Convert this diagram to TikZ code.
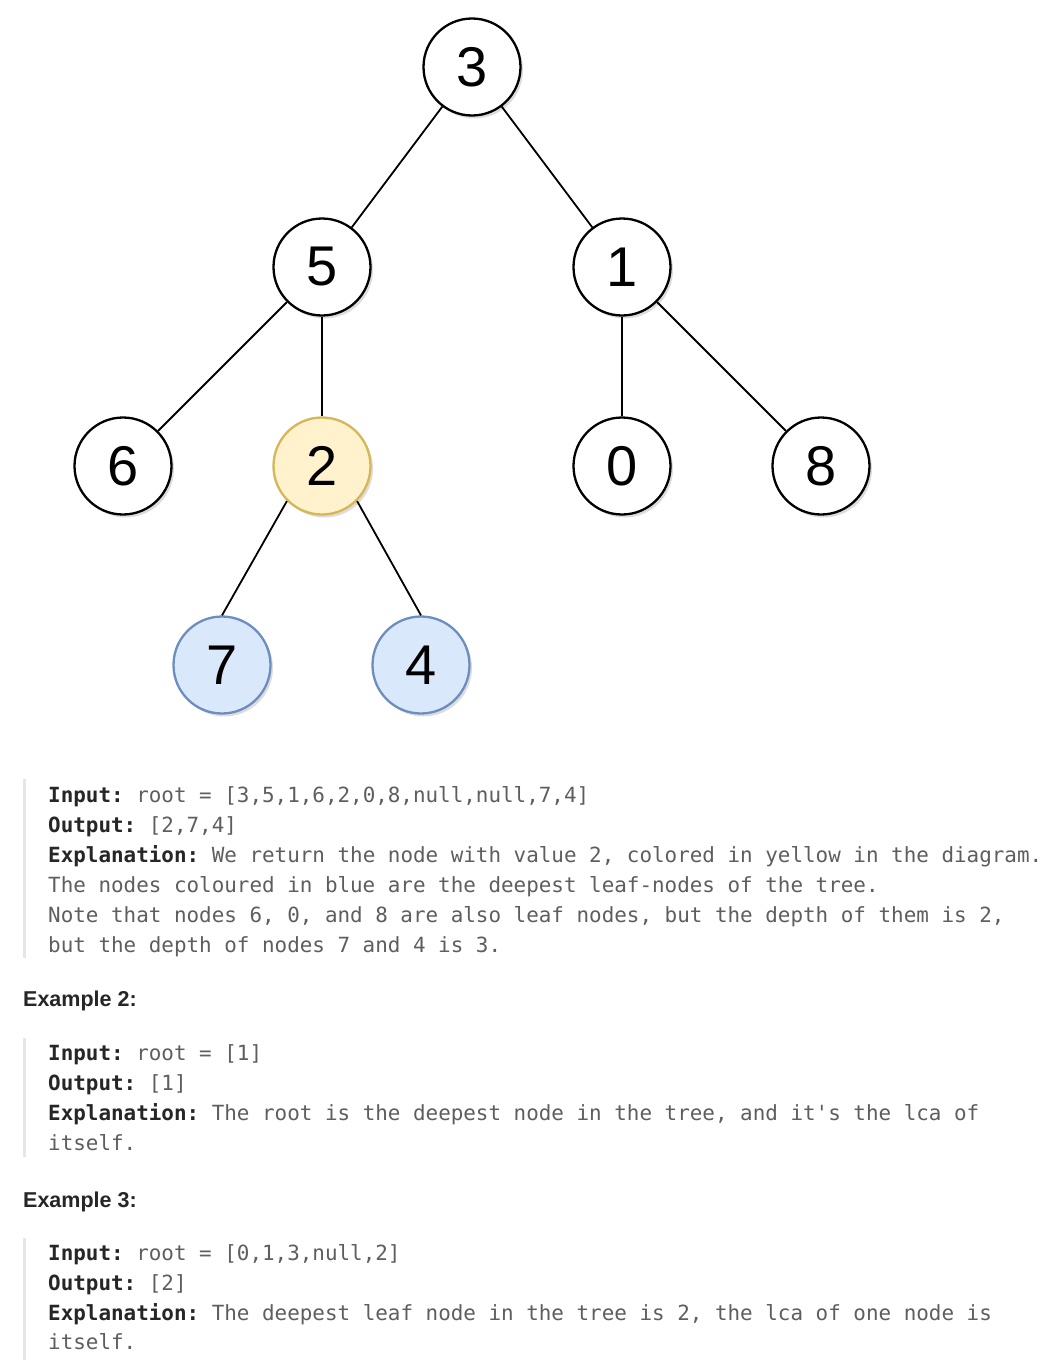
\documentclass[tikz,border=0pt]{standalone}
\usepackage{fontspec}
\setmainfont{Liberation Sans}
\setmonofont{DejaVu Sans Mono}
\usetikzlibrary{shadows}
\definecolor{lbl}{HTML}{262626}
\definecolor{txt}{HTML}{5E5E5E}
\definecolor{yfill}{HTML}{FFF2CC}
\definecolor{ydraw}{HTML}{D6B656}
\definecolor{bfill}{HTML}{DAE8FC}
\definecolor{bdraw}{HTML}{6C8EBF}
\definecolor{barc}{HTML}{E6E6E6}
\newcommand{\lb}[1]{{\bfseries\color{lbl}#1}}
\begin{document}
\begin{tikzpicture}[x=1pt,y=-1pt,
 tn/.style={circle,draw=black,fill=white,line width=2.3pt,minimum size=97pt,inner sep=0pt,
   font=\fontsize{56}{60}\selectfont,
   drop shadow={shadow xshift=2.5pt,shadow yshift=-3pt,opacity=0.22,fill=black!60}},
 yn/.style={tn,fill=yfill,draw=ydraw},
 bn/.style={tn,fill=bfill,draw=bdraw},
 edge/.style={line width=1.8pt,black},
 codeline/.style={anchor=base west,inner sep=0pt,font=\ttfamily\frenchspacing\fontsize{20.9}{25}\selectfont,text=txt},
 head/.style={anchor=base west,inner sep=0pt,font=\bfseries\fontsize{21.5}{25}\selectfont,text=lbl},
 bar/.style={fill=barc,draw=none}]
\useasboundingbox[fill=white] (0,0) rectangle (1056,1368);

% tree nodes
\node[tn] (n3) at (472,67) {3};
\node[tn] (n5) at (322,267) {5};
\node[tn] (n1) at (622,267) {1};
\node[tn] (n6) at (123,466) {6};
\node[yn] (n2) at (322,466) {2};
\node[tn] (n0) at (622,466) {0};
\node[tn] (n8) at (821,466) {8};
\node[bn] (n7) at (222,665) {7};
\node[bn] (n4) at (421,665) {4};

% edges
\draw[edge] (n3) -- (n5);
\draw[edge] (n3) -- (n1);
\draw[edge] (n5.south west) -- (n6.north east);
\draw[edge] (n5.south) -- (n2.north);
\draw[edge] (n1.south) -- (n0.north);
\draw[edge] (n1.south east) -- (n8.north west);
\draw[edge] (n2.south west) -- (n7.north);
\draw[edge] (n2.south east) -- (n4.north);

% quote bars
\fill[bar] (23,779) rectangle (26,958);
\fill[bar] (23,1038) rectangle (26,1157);
\fill[bar] (23,1238) rectangle (26,1360);

% example 1
\node[codeline] (l11) at (48,802) {\lb{Input:} root = [3,5,1,6,2,0,8,null,null,7,4]};
\node[codeline] (l12) at (48,832) {\lb{Output:} [2,7,4]};
\node[codeline] (l13) at (48,862) {\lb{Explanation:} We return the node with value 2, colored in yellow in the diagram.};
\node[codeline] (l14) at (48,892) {The nodes coloured in blue are the deepest leaf-nodes of the tree.};
\node[codeline] (l15) at (48,922) {Note that nodes 6, 0, and 8 are also leaf nodes, but the depth of them is 2,};
\node[codeline] (l16) at (48,952) {but the depth of nodes 7 and 4 is 3.};

% example 2
\node[head] (h2) at (23,1006) {Example 2:};
\node[codeline] (l21) at (48,1060) {\lb{Input:} root = [1]};
\node[codeline] (l22) at (48,1090) {\lb{Output:} [1]};
\node[codeline] (l23) at (48,1120) {\lb{Explanation:} The root is the deepest node in the tree, and it's the lca of};
\node[codeline] (l24) at (48,1150) {itself.};

% example 3
\node[head] (h3) at (23,1207) {Example 3:};
\node[codeline] (l31) at (48,1260) {\lb{Input:} root = [0,1,3,null,2]};
\node[codeline] (l32) at (48,1290) {\lb{Output:} [2]};
\node[codeline] (l33) at (48,1320) {\lb{Explanation:} The deepest leaf node in the tree is 2, the lca of one node is};
\node[codeline] (l34) at (48,1349) {itself.};
\end{tikzpicture}
\end{document}
